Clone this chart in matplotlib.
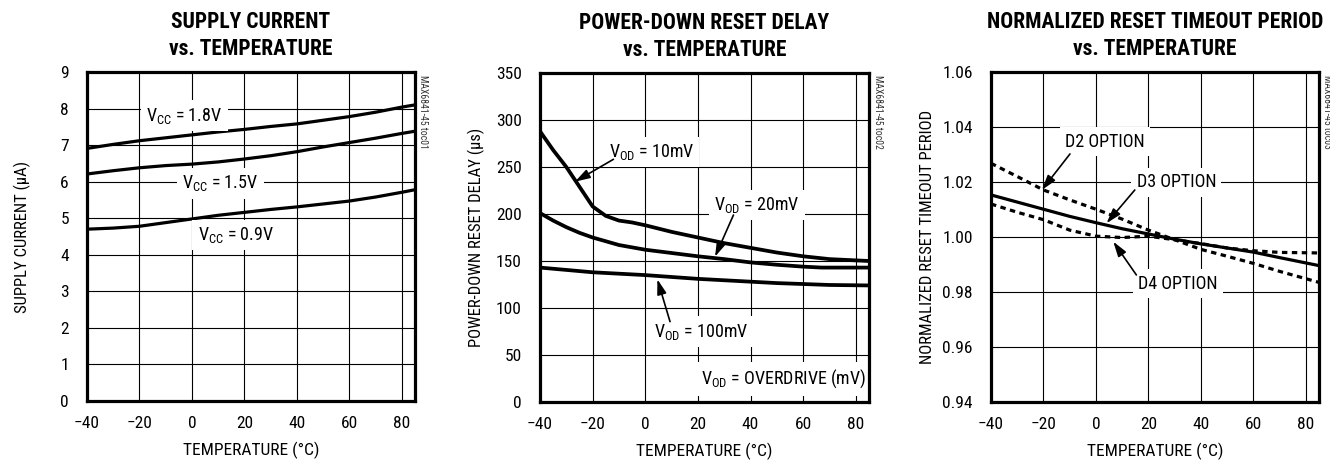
import matplotlib
matplotlib.use("Agg")
import matplotlib.pyplot as plt
from matplotlib import font_manager as fm

# ---------------- data ----------------
temp1 = [-40, -30, -20, -10, 0, 10, 20, 30, 40, 50, 60, 70, 80, 85]
vcc18 = [6.91, 7.02, 7.12, 7.20, 7.28, 7.36, 7.43, 7.51, 7.58, 7.68, 7.78, 7.90, 8.04, 8.10]
vcc15 = [6.21, 6.30, 6.38, 6.44, 6.48, 6.54, 6.62, 6.71, 6.82, 6.95, 7.07, 7.19, 7.32, 7.38]
vcc09 = [4.70, 4.73, 4.78, 4.88, 4.98, 5.08, 5.16, 5.24, 5.31, 5.39, 5.47, 5.58, 5.71, 5.78]

temp2a = [-40, -35, -30, -25, -20, -15, -10, -5, 0, 10, 20, 30, 40, 50, 60, 70, 85]
vod10 = [288, 268, 250, 229, 208, 198, 193, 191, 188, 181, 175, 169, 164, 159, 155, 152, 150]
temp2b = [-40, -35, -30, -25, -20, -15, -10, 0, 10, 20, 30, 40, 50, 60, 67, 85]
vod20 = [201, 193, 186, 180, 175, 171, 167, 162, 158.5, 155, 152, 148.5, 146, 144, 143, 143]
temp2c = [-40, -30, -20, -10, 0, 10, 20, 30, 40, 50, 60, 70, 85]
vod100 = [143, 140.5, 138, 136.5, 135, 133, 131, 129.5, 128, 126.5, 125.5, 124.5, 124]

temp3 = [-40, -30, -20, -10, 0, 10, 20, 30, 40, 50, 60, 70, 85]
d2 = [1.0268, 1.0220, 1.0171, 1.0135, 1.0101, 1.0065, 1.0025, 0.9990, 0.9955, 0.9930, 0.9904, 0.9875, 0.9835]
d3 = [1.0153, 1.0127, 1.0101, 1.0075, 1.0052, 1.0030, 1.0011, 0.9992, 0.9975, 0.9960, 0.9945, 0.9925, 0.9896]
d4 = [1.0120, 1.0090, 1.0063, 1.0025, 1.0003, 0.9998, 1.0003, 0.9990, 0.9976, 0.9960, 0.9950, 0.9944, 0.9942]

xticks = [-40, -20, 0, 20, 40, 60, 80]
yticks1 = [0, 1, 2, 3, 4, 5, 6, 7, 8, 9]
yticks2 = [0, 50, 100, 150, 200, 250, 300, 350]
yticks3 = [0.94, 0.96, 0.98, 1.00, 1.02, 1.04, 1.06]
ytl3 = ["0.94", "0.96", "0.98", "1.00", "1.02", "1.04", "1.06"]

titles = ["SUPPLY CURRENT\nvs. TEMPERATURE",
          "POWER-DOWN RESET DELAY\nvs. TEMPERATURE",
          "NORMALIZED RESET TIMEOUT PERIOD\nvs. TEMPERATURE"]
ylabels = ["SUPPLY CURRENT (\u03bcA)", "POWER-DOWN RESET DELAY (\u03bcs)",
           "NORMALIZED RESET TIMEOUT PERIOD"]
xlabel = "TEMPERATURE (\u00b0C)"
tocs = ["MAX6841-45 toc01", "MAX6841-45 toc02", "MAX6841-45 toc03"]

# ---------------- fonts ----------------
names = {f.name for f in fm.fontManager.ttflist}
fam = None
for cand in ["Liberation Sans Narrow", "Roboto Condensed", "Open Sans Condensed",
             "Liberation Sans", "DejaVu Sans"]:
    if cand in names:
        fam = cand
        break
plt.rcParams['font.family'] = [fam, 'DejaVu Sans']
plt.rcParams['mathtext.default'] = 'regular'
plt.rcParams['mathtext.fontset'] = 'custom'
plt.rcParams['mathtext.rm'] = fam
plt.rcParams['mathtext.it'] = fam

W, H = 1330, 461
fig = plt.figure(figsize=(W / 100, H / 100), dpi=100)

def px_axes(l, r, t, b):
    return [l / W, 1 - b / H, (r - l) / W, (b - t) / H]

ax1 = fig.add_axes(px_axes(87, 415, 72, 401))
ax2 = fig.add_axes(px_axes(540, 869, 73, 402))
ax3 = fig.add_axes(px_axes(991, 1319, 72, 402))
axes = [ax1, ax2, ax3]

LW = 2.3
TFS = 12.5
box = dict(boxstyle='square,pad=0.3', fc='white', ec='none')
arrow = dict(arrowstyle='-|>,head_length=0.9,head_width=0.28', lw=1.2, color='black',
             shrinkA=0, shrinkB=0, mutation_scale=10)

for ax, t, yl in zip(axes, titles, ylabels):
    ax.set_xlim(-40, 85)
    ax.set_xticks(xticks)
    ax.grid(True, color='black', lw=0.8)
    ax.set_axisbelow(True)
    for s in ax.spines.values():
        s.set_linewidth(2.3)
        s.set_zorder(5)
    ax.tick_params(length=0, labelsize=TFS, colors='black')
    ax.tick_params(axis='y', pad=13)
    ax.tick_params(axis='x', pad=11)
    ax.set_title(t, fontsize=15.5, fontweight='bold', linespacing=1.3, pad=12)
    ax.set_ylabel(yl, fontsize=12, va='center')
    ax.set_xlabel(xlabel, fontsize=12.5, va='center')
    ax.xaxis.set_label_coords(0.5, -0.149)

ax1.yaxis.set_label_coords(-0.198, 0.5)
ax2.yaxis.set_label_coords(-0.192, 0.5)
ax3.yaxis.set_label_coords(-0.195, 0.5)

# panel 1
ax1.set_ylim(0, 9)
ax1.set_yticks(yticks1)
ax1.plot(temp1, vcc18, color='black', lw=LW, zorder=3)
ax1.plot(temp1, vcc15, color='black', lw=LW, zorder=3)
ax1.plot(temp1, vcc09, color='black', lw=LW, zorder=3)
ax1.text(-2.9, 7.8, 'V$_{CC}$ = 1.8V', fontsize=13, ha='center', va='center', bbox=box, zorder=4)
ax1.text(10.9, 5.95, 'V$_{CC}$ = 1.5V', fontsize=13, ha='center', va='center', bbox=box, zorder=4)
ax1.text(16.7, 4.54, 'V$_{CC}$ = 0.9V', fontsize=13, ha='center', va='center', bbox=box, zorder=4)

# panel 2
ax2.set_ylim(0, 350)
ax2.set_yticks(yticks2)
ax2.plot(temp2a, vod10, color='black', lw=LW + 0.4, zorder=3)
ax2.plot(temp2b, vod20, color='black', lw=LW + 0.4, zorder=3)
ax2.plot(temp2c, vod100, color='black', lw=LW + 0.4, zorder=3)
ax2.text(2.3, 266, 'V$_{OD}$ = 10mV', fontsize=13, ha='center', va='center', bbox=box, zorder=4)
ax2.text(42.4, 209.6, 'V$_{OD}$ = 20mV', fontsize=13, ha='center', va='center', bbox=box, zorder=4)
ax2.text(21.3, 74.8, 'V$_{OD}$ = 100mV', fontsize=13, ha='center', va='center', bbox=box, zorder=4)
ax2.text(52.7, 24.5, 'V$_{OD}$ = OVERDRIVE (mV)', fontsize=13, ha='center', va='center', bbox=box, zorder=4)
ax2.annotate('', xy=(-26.7, 234.4), xytext=(-12.1, 258.2), arrowprops=arrow, zorder=4)
ax2.annotate('', xy=(26.5, 154.6), xytext=(33.5, 198.9), arrowprops=arrow, zorder=4)
ax2.annotate('', xy=(4.6, 130.5), xytext=(9.4, 85.5), arrowprops=arrow, zorder=4)

# panel 3
ax3.set_ylim(0.94, 1.06)
ax3.set_yticks(yticks3)
ax3.set_yticklabels(ytl3)
ax3.plot(temp3, d2, color='black', lw=LW, ls=(0, (1.7, 1.4)), zorder=3)
ax3.plot(temp3, d3, color='black', lw=LW, zorder=3)
ax3.plot(temp3, d4, color='black', lw=LW, ls=(0, (1.7, 1.4)), zorder=3)
ax3.text(3.5, 1.0347, 'D2 OPTION', fontsize=13, ha='center', va='center', bbox=box, zorder=4)
ax3.text(30.6, 1.0199, 'D3 OPTION', fontsize=13, ha='center', va='center', bbox=box, zorder=4)
ax3.text(31.3, 0.9830, 'D4 OPTION', fontsize=13, ha='center', va='center', bbox=box, zorder=4)
ax3.annotate('', xy=(-20.6, 1.0171), xytext=(-9.9, 1.0302), arrowprops=arrow, zorder=4)
ax3.annotate('', xy=(4.05, 1.0050), xytext=(14.8, 1.0171), arrowprops=arrow, zorder=4)
ax3.annotate('', xy=(6.6, 0.9983), xytext=(15.4, 0.9862), arrowprops=arrow, zorder=4)

# side ids
for xp, txt in zip([423, 878, 1327], tocs):
    fig.text(xp / W, 1 - 75 / H, txt, rotation=270, fontsize=7, ha='center', va='top',
             color='#333333')

fig.savefig('out.png', dpi=100)
